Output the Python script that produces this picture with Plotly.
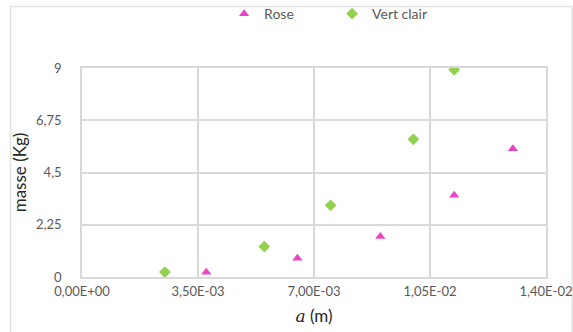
import plotly.graph_objects as go

# Mesures : longueur a (m) et masse (kg) pour chaque série
rose_a = [0.00375, 0.0065, 0.0090, 0.01123, 0.0130]
rose_masse = [0.20, 0.81, 1.74, 3.52, 5.52]

vert_a = [0.0025, 0.0055, 0.0075, 0.0100, 0.01123]
vert_masse = [0.21, 1.31, 3.09, 5.93, 8.93]

x_ticks = [0, 0.0035, 0.007, 0.0105, 0.014]
x_tick_labels = ["0,00E+00", "3,50E-03", "7,00E-03", "1,05E-02", "1,40E-02"]
y_ticks = [0, 2.25, 4.5, 6.75, 9]
y_tick_labels = ["0", "2,25", "4,5", "6,75", "9"]

FONT = "Lato, 'Open Sans', sans-serif"
GRID = "#d9d9d9"

fig = go.Figure()
fig.add_trace(go.Scatter(
    x=rose_a, y=rose_masse, mode="markers", name="Rose",
    marker=dict(symbol="triangle-up", size=9, color="#e946c6"),
))
fig.add_trace(go.Scatter(
    x=vert_a, y=vert_masse, mode="markers", name="Vert clair",
    marker=dict(symbol="diamond", size=9, color="#92d050"),
))

fig.update_layout(
    width=573, height=332,
    margin=dict(l=82, r=27, t=68, b=55, autoexpand=False),
    paper_bgcolor="white", plot_bgcolor="white",
    font=dict(family=FONT, size=13, color="#595959"),
    showlegend=True,
    legend=dict(
        orientation="h", x=0.539, xanchor="center", y=1.258, yanchor="middle",
        font=dict(family=FONT, size=14, color="#595959"),
        entrywidth=63, bgcolor="rgba(0,0,0,0)",
    ),
    xaxis=dict(
        range=[0, 0.014], tickvals=x_ticks, ticktext=x_tick_labels,
        automargin=False,
        showgrid=True, gridcolor=GRID, gridwidth=1.5,
        showline=True, linecolor=GRID, linewidth=1.5, mirror=True,
        zeroline=False, ticks="outside", ticklen=2, tickcolor="rgba(0,0,0,0)",
        tickfont=dict(size=13, color="#595959"),
        title=dict(
            text="<span style='font-family:\"DejaVu Serif\", serif'><i>a</i></span> (m)",
            font=dict(family=FONT, size=17, color="#262626"), standoff=12,
        ),
    ),
    yaxis=dict(
        range=[0, 9], tickvals=y_ticks, ticktext=y_tick_labels,
        automargin=False,
        showgrid=True, gridcolor=GRID, gridwidth=1.5,
        showline=True, linecolor=GRID, linewidth=1.5, mirror=True,
        zeroline=False, ticks="outside", ticklen=16, tickcolor="rgba(0,0,0,0)",
        tickfont=dict(size=13, color="#595959"),
        title=dict(text="masse (Kg)", font=dict(family=FONT, size=17, color="#262626"),
                   standoff=5),
    ),
    shapes=[dict(
        type="rect", xref="paper", yref="paper",
        x0=-0.154, x1=1.056, y0=-0.35, y1=1.294,
        line=dict(color="#e3e3e3", width=1.5), fillcolor="rgba(0,0,0,0)", layer="below",
    )],
)

fig.write_html("out.html")
